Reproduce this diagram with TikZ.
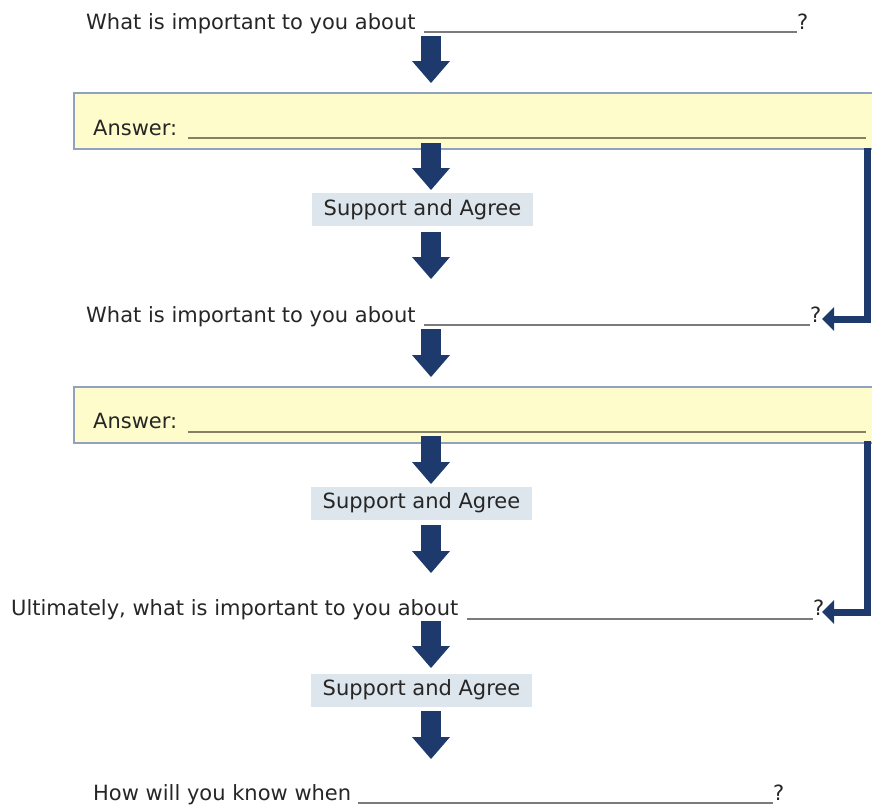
\documentclass[tikz,border=0pt]{standalone}
\usepackage{fontspec}
\setmainfont{DejaVu Sans}
\usetikzlibrary{arrows.meta}
\definecolor{navy}{HTML}{1E3A6C}
\definecolor{ansfill}{HTML}{FFFCCC}
\definecolor{ansborder}{HTML}{8FA3C0}
\definecolor{supfill}{HTML}{DDE6EC}
\definecolor{txt}{HTML}{262626}
\definecolor{blankgray}{HTML}{7A7A7A}
\definecolor{blankkhaki}{HTML}{858066}
\begin{document}
\begin{tikzpicture}[x=1pt,y=-1pt,
  every node/.style={font=\fontsize{21}{25}\selectfont, text=txt, inner sep=0pt},
  label/.style={anchor=base west},
  ansbox/.style={draw=ansborder, line width=1.5pt, fill=ansfill, anchor=north west, minimum width=810pt, minimum height=56pt},
  supbox/.style={fill=supfill, minimum width=221pt, minimum height=33pt},
  blank/.style={draw=blankgray, line width=1.6pt},
  ansblank/.style={draw=blankkhaki, line width=1.8pt},
  bigarrow/.style={draw=navy, line width=20pt, -{Triangle[width=38pt,length=22pt,line width=0pt]}},
  sidearrow/.style={draw=navy, line width=7pt, line join=miter, -{Triangle[width=24pt,length=12pt,line width=0pt]}}
]
\useasboundingbox (0,0) rectangle (872,806);

% question 1
\node[label] (q1) at (86,29) {What is important to you about};
\coordinate (u1a) at (424,32); \coordinate (u1b) at (797,32);
\draw[blank] (u1a) -- (u1b);
\node[label] (q1m) at (797,29) {?};

% answer box 1
\node[ansbox] (b1) at (73,92) {};
\node[label] (a1) at (93,135) {Answer:};
\coordinate (v1a) at (188,138); \coordinate (v1b) at (866,138);
\draw[ansblank] (v1a) -- (v1b);

% support 1
\node[supbox] (s1) at (422.5,209.5) {Support and Agree};

% question 2
\node[label] (q2) at (86,322) {What is important to you about};
\coordinate (u2a) at (424,325); \coordinate (u2b) at (810,325);
\draw[blank] (u2a) -- (u2b);
\node[label] (q2m) at (810,322) {?};

% answer box 2
\node[ansbox] (b2) at (73,386) {};
\node[label] (a2) at (93,428) {Answer:};
\coordinate (v2a) at (188,432); \coordinate (v2b) at (866,432);
\draw[ansblank] (v2a) -- (v2b);

% support 2
\node[supbox] (s2) at (421.5,503) {Support and Agree};

% question 3
\node[label] (q3) at (11,615) {Ultimately, what is important to you about};
\coordinate (u3a) at (467,619); \coordinate (u3b) at (813,619);
\draw[blank] (u3a) -- (u3b);
\node[label] (q3m) at (813,615) {?};

% support 3
\node[supbox] (s3) at (421.5,690) {Support and Agree};

% question 4
\node[label] (q4) at (93,800.5) {How will you know when};
\coordinate (u4a) at (358,803); \coordinate (u4b) at (773,803);
\draw[blank] (u4a) -- (u4b);
\node[label] (q4m) at (773,800.5) {?};

% down arrows
\coordinate (d1s) at (431,36);  \coordinate (d1e) at (431,83);
\coordinate (d2s) at (431,143); \coordinate (d2e) at (431,190);
\coordinate (d3s) at (431,232); \coordinate (d3e) at (431,279);
\coordinate (d4s) at (431,329); \coordinate (d4e) at (431,377);
\coordinate (d5s) at (431,436); \coordinate (d5e) at (431,484);
\coordinate (d6s) at (431,525); \coordinate (d6e) at (431,573);
\coordinate (d7s) at (431,621); \coordinate (d7e) at (431,668);
\coordinate (d8s) at (431,711); \coordinate (d8e) at (431,759);
\foreach \i in {1,...,8} {\draw[bigarrow] (d\i s) -- (d\i e);}

% loop-back connectors
\coordinate (c1s) at (867.5,148); \coordinate (c1e) at (822,319);
\draw[sidearrow] (c1s) |- (c1e);
\coordinate (c2s) at (867.5,441); \coordinate (c2e) at (822,612);
\draw[sidearrow] (c2s) |- (c2e);
\end{tikzpicture}
\end{document}
